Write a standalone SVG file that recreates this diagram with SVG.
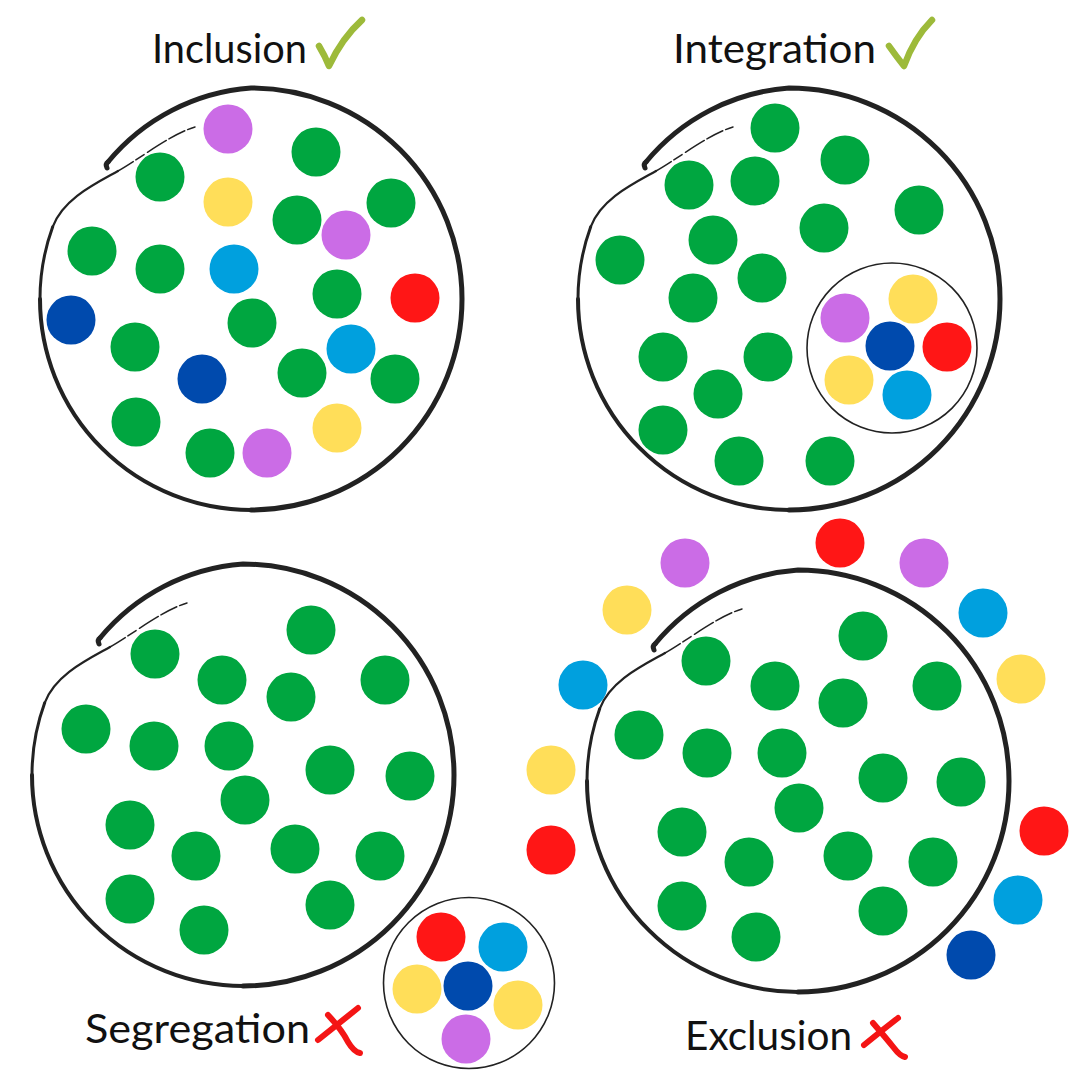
<svg xmlns="http://www.w3.org/2000/svg" xmlns:xlink="http://www.w3.org/1999/xlink" width="1080" height="1080" viewBox="0 0 1080 1080">
<style>
.g{fill:#00A640}.p{fill:#CB6CE6}.y{fill:#FFDE59}.b{fill:#00A0DE}.d{fill:#004AAD}.r{fill:#FF1616}
.ring{fill:none;stroke:#222;stroke-width:5;stroke-linecap:round}
.ring2{fill:none;stroke:#222;stroke-width:4;stroke-linecap:round}
.ring3{fill:none;stroke:#222;stroke-width:3;stroke-linecap:round}
.tail{fill:none;stroke:#222;stroke-width:2.2;stroke-linecap:round}
.tail2{fill:none;stroke:#222;stroke-width:1.5;stroke-linecap:round;stroke-dasharray:18 3 10 4 22 3}
.small{fill:none;stroke:#222;stroke-width:1.6}
.t{font-family:Lato,"Liberation Sans",sans-serif;font-size:41px;fill:#111}
.chk{fill:none;stroke:#9DBA3A;stroke-width:6.5;stroke-linecap:round;stroke-linejoin:round}
.x{fill:none;stroke:#F41515;stroke-width:6;stroke-linecap:round;stroke-linejoin:round}
</style>
<defs>
<g id="sketch">
<path class="ring" d="M -143,-137 A 205 205 0 0 1 0,-211 A 211 211 0 0 1 211,0 A 211 211 0 0 1 0,211"/>
<path class="ring2" d="M 0,211 A 211 211 0 0 1 -211,0"/>
<path class="ring3" d="M -211,0 A 211 211 0 0 1 -198.3,-72.2"/>
<path class="ring" d="M -143,-137 q -3,2 -1,6" stroke-width="4"/>
<path class="tail" d="M -198.3,-72.2 C -188,-100.4 -154.8,-115.8 -133,-128"/>
<path class="tail2" d="M -133,-128 C -111.2,-140.3 -80,-165 -56,-172"/>
</g>
</defs>
<rect width="1080" height="1080" fill="#fff"/>

<g id="inclusion">
<text class="t" x="152" y="63" textLength="155" lengthAdjust="spacingAndGlyphs">Inclusion</text>
<path class="chk" d="M319,46 Q325,56 329,66 Q342,38 362,20"/>
<use xlink:href="#sketch" transform="translate(251,299)"/>
<circle class="p" cx="228" cy="129" r="24.5"/>
<circle class="g" cx="316" cy="152" r="24.5"/>
<circle class="g" cx="160" cy="177" r="24.5"/>
<circle class="y" cx="228" cy="202" r="24.5"/>
<circle class="g" cx="391" cy="203" r="24.5"/>
<circle class="g" cx="297" cy="220" r="24.5"/>
<circle class="p" cx="346" cy="235" r="24.5"/>
<circle class="g" cx="92" cy="251" r="24.5"/>
<circle class="g" cx="160" cy="269" r="24.5"/>
<circle class="b" cx="234" cy="269" r="24.5"/>
<circle class="g" cx="337" cy="294" r="24.5"/>
<circle class="r" cx="415" cy="298" r="24.5"/>
<circle class="d" cx="71" cy="320" r="24.5"/>
<circle class="g" cx="252" cy="323" r="24.5"/>
<circle class="g" cx="135" cy="347" r="24.5"/>
<circle class="b" cx="351" cy="349" r="24.5"/>
<circle class="d" cx="202" cy="379" r="24.5"/>
<circle class="g" cx="302" cy="373" r="24.5"/>
<circle class="g" cx="395" cy="379" r="24.5"/>
<circle class="g" cx="136" cy="422" r="24.5"/>
<circle class="y" cx="337" cy="428" r="24.5"/>
<circle class="g" cx="210" cy="453" r="24.5"/>
<circle class="p" cx="267" cy="453" r="24.5"/>
</g>

<g id="integration">
<text class="t" x="673" y="63" textLength="203" lengthAdjust="spacingAndGlyphs">Integration</text>
<path class="chk" d="M889,46 Q896,56 904,66 Q914,38 932,20"/>
<use xlink:href="#sketch" transform="translate(789,299)"/>
<circle class="g" cx="775" cy="128" r="24.5"/>
<circle class="g" cx="845" cy="160" r="24.5"/>
<circle class="g" cx="689" cy="185" r="24.5"/>
<circle class="g" cx="755" cy="181" r="24.5"/>
<circle class="g" cx="919" cy="210" r="24.5"/>
<circle class="g" cx="824" cy="228" r="24.5"/>
<circle class="g" cx="713" cy="240" r="24.5"/>
<circle class="g" cx="620" cy="260" r="24.5"/>
<circle class="g" cx="762" cy="278" r="24.5"/>
<circle class="g" cx="693" cy="298" r="24.5"/>
<circle class="g" cx="663" cy="357" r="24.5"/>
<circle class="g" cx="768" cy="357" r="24.5"/>
<circle class="g" cx="718" cy="394" r="24.5"/>
<circle class="g" cx="663" cy="430" r="24.5"/>
<circle class="g" cx="739" cy="461" r="24.5"/>
<circle class="g" cx="830" cy="461" r="24.5"/>
<g id="integration-group">
<circle class="small" cx="892" cy="348" r="85"/>
<circle class="p" cx="845" cy="318" r="24.5"/>
<circle class="y" cx="913" cy="299" r="24.5"/>
<circle class="d" cx="890" cy="346" r="24.5"/>
<circle class="r" cx="947" cy="347" r="24.5"/>
<circle class="y" cx="849" cy="380" r="24.5"/>
<circle class="b" cx="907" cy="395" r="24.5"/>
</g>
</g>

<g id="segregation">
<use xlink:href="#sketch" transform="translate(243,775)"/>
<circle class="g" cx="311" cy="630" r="24.5"/>
<circle class="g" cx="155" cy="654" r="24.5"/>
<circle class="g" cx="222" cy="680" r="24.5"/>
<circle class="g" cx="385" cy="680" r="24.5"/>
<circle class="g" cx="291" cy="697" r="24.5"/>
<circle class="g" cx="86" cy="729" r="24.5"/>
<circle class="g" cx="154" cy="746" r="24.5"/>
<circle class="g" cx="229" cy="746" r="24.5"/>
<circle class="g" cx="330" cy="770" r="24.5"/>
<circle class="g" cx="410" cy="776" r="24.5"/>
<circle class="g" cx="245" cy="800" r="24.5"/>
<circle class="g" cx="130" cy="825" r="24.5"/>
<circle class="g" cx="196" cy="856" r="24.5"/>
<circle class="g" cx="295" cy="849" r="24.5"/>
<circle class="g" cx="380" cy="856" r="24.5"/>
<circle class="g" cx="130" cy="899" r="24.5"/>
<circle class="g" cx="330" cy="905" r="24.5"/>
<circle class="g" cx="204" cy="930" r="24.5"/>
<g id="segregation-group">
<circle cx="469" cy="983" r="85.5" fill="#fff" stroke="#222" stroke-width="1.6"/>
<circle class="r" cx="441" cy="937" r="24.5"/>
<circle class="b" cx="503" cy="947" r="24.5"/>
<circle class="y" cx="417" cy="989" r="24.5"/>
<circle class="d" cx="468" cy="986" r="24.5"/>
<circle class="y" cx="518" cy="1005" r="24.5"/>
<circle class="p" cx="466" cy="1039" r="24.5"/>
</g>
<text class="t" x="85" y="1043" textLength="225" lengthAdjust="spacingAndGlyphs">Segregation</text>
<path class="x" d="M358,1008 Q338,1024 318,1040"/>
<path class="x" d="M328,1015 Q342,1030 348,1042 Q354,1052 360,1053"/>
</g>

<g id="exclusion">
<use xlink:href="#sketch" transform="translate(798,781)"/>
<circle class="g" cx="863" cy="636" r="24.5"/>
<circle class="g" cx="706" cy="661" r="24.5"/>
<circle class="g" cx="775" cy="686" r="24.5"/>
<circle class="g" cx="937" cy="686" r="24.5"/>
<circle class="g" cx="843" cy="703" r="24.5"/>
<circle class="g" cx="639" cy="735" r="24.5"/>
<circle class="g" cx="707" cy="753" r="24.5"/>
<circle class="g" cx="782" cy="753" r="24.5"/>
<circle class="g" cx="883" cy="778" r="24.5"/>
<circle class="g" cx="961" cy="782" r="24.5"/>
<circle class="g" cx="799" cy="808" r="24.5"/>
<circle class="g" cx="682" cy="832" r="24.5"/>
<circle class="g" cx="749" cy="862" r="24.5"/>
<circle class="g" cx="848" cy="856" r="24.5"/>
<circle class="g" cx="933" cy="862" r="24.5"/>
<circle class="g" cx="682" cy="906" r="24.5"/>
<circle class="g" cx="883" cy="911" r="24.5"/>
<circle class="g" cx="756" cy="937" r="24.5"/>
<g id="excluded">
<circle class="p" cx="685" cy="563" r="24.5"/>
<circle class="r" cx="840" cy="543" r="24.5"/>
<circle class="p" cx="924" cy="563" r="24.5"/>
<circle class="y" cx="627" cy="610" r="24.5"/>
<circle class="b" cx="983" cy="613" r="24.5"/>
<circle class="b" cx="583" cy="685" r="24.5"/>
<circle class="y" cx="1021" cy="679" r="24.5"/>
<circle class="y" cx="551" cy="770" r="24.5"/>
<circle class="r" cx="1044" cy="831" r="24.5"/>
<circle class="r" cx="551" cy="850" r="24.5"/>
<circle class="b" cx="1018" cy="900" r="24.5"/>
<circle class="d" cx="971" cy="955" r="24.5"/>
</g>
<text class="t" x="685" y="1050" textLength="167" lengthAdjust="spacingAndGlyphs">Exclusion</text>
<path class="x" d="M898,1018 Q880,1032 864,1045"/>
<path class="x" d="M873,1023 Q886,1038 894,1048 Q900,1056 905,1057"/>
</g>
</svg>
